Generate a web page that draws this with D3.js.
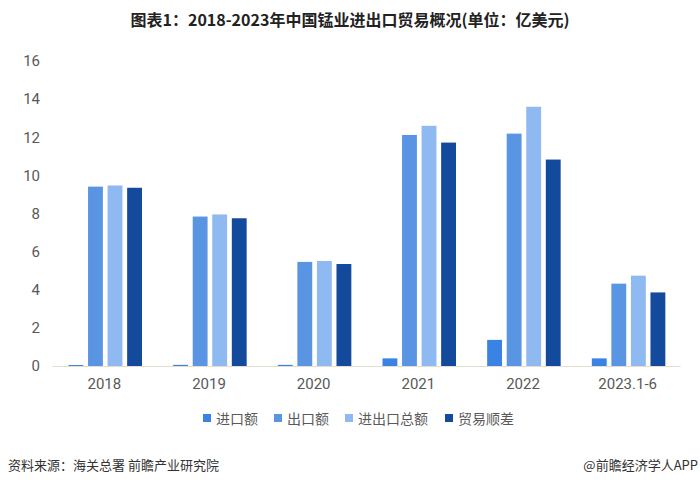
<!DOCTYPE html>
<html><head><meta charset="utf-8">
<script src="https://cdn.jsdelivr.net/npm/d3@7"></script>
<style>body{margin:0;background:#fff;}svg{display:block;}</style>
</head><body>
<script>
const categories = ["2018","2019","2020","2021","2022","2023.1-6"];
const seriesNames = ["进口额","出口额","进出口总额","贸易顺差"];
const importVals = [0.05,0.06,0.06,0.40,1.37,0.40];
const exportVals = [9.41,7.84,5.46,12.12,12.19,4.32];
const totalVals = [9.47,7.95,5.51,12.60,13.60,4.74];
const balanceVals = [9.35,7.75,5.35,11.72,10.83,3.86];
const yTicks = [0,2,4,6,8,10,12,14,16];
const colors = ["#3a82e4","#5a95e3","#8fb9f1","#144a9c"];
const series = [importVals, exportVals, totalVals, balanceVals];

const W=700,H=486;
const svg=d3.select("body").append("svg").attr("width",W).attr("height",H);
const font="'Noto Sans CJK SC','Noto Sans',sans-serif";

svg.append("text").attr("x",350).attr("y",26).attr("text-anchor","middle")
 .attr("font-family",font).attr("font-weight","bold").attr("font-size",16).attr("fill","#222")
 .text("图表1：2018-2023年中国锰业进出口贸易概况(单位：亿美元)");

const x=d3.scaleBand().domain(categories).range([52,680]).paddingInner(0).paddingOuter(0);
const x1=d3.scaleBand().domain(seriesNames).range([16.5,90]).paddingInner(0.24);
const y=d3.scaleLinear().domain([0,16]).range([366,61]);

// y axis labels
const ya=svg.append("g").attr("transform","translate(40,0)")
 .call(d3.axisLeft(y).tickValues(yTicks).tickSize(0).tickPadding(0));
ya.select(".domain").remove();
ya.selectAll("text").attr("font-family","Roboto,'Noto Sans',sans-serif").attr("font-size",15).attr("fill","#595959");

// bars
const g=svg.append("g");
series.forEach((vals,si)=>{
  g.selectAll(null).data(vals).enter().append("rect")
   .attr("x",(d,i)=>x(categories[i])+x1(seriesNames[si]))
   .attr("width",x1.bandwidth())
   .attr("y",d=>y(d)).attr("height",d=>y(0)-y(d))
   .attr("fill",colors[si]);
});

// x axis
const xa=svg.append("g").attr("transform","translate(0,366)")
 .call(d3.axisBottom(x).tickSize(0).tickPadding(12));
xa.select(".domain").attr("stroke","#e3ddd0").attr("stroke-width",1);
xa.selectAll("text").attr("font-family","Roboto,'Noto Sans',sans-serif").attr("font-size",15).attr("fill","#595959");

// legend
const legX=[203,274,345,445];
const leg=svg.append("g");
seriesNames.forEach((n,i)=>{
  leg.append("rect").attr("x",legX[i]).attr("y",414).attr("width",8).attr("height",8).attr("fill",colors[i]);
  leg.append("text").attr("x",legX[i]+13).attr("y",424).attr("font-family",font).attr("font-size",14).attr("fill","#595959").text(n);
});

// footer
svg.append("text").attr("x",8).attr("y",470).attr("font-family",font).attr("font-size",13).attr("fill","#333").text("资料来源：海关总署 前瞻产业研究院");
svg.append("text").attr("x",698).attr("y",470).attr("text-anchor","end").attr("font-family",font).attr("font-size",13).attr("fill","#333").text("@前瞻经济学人APP");
</script>
</body></html>
